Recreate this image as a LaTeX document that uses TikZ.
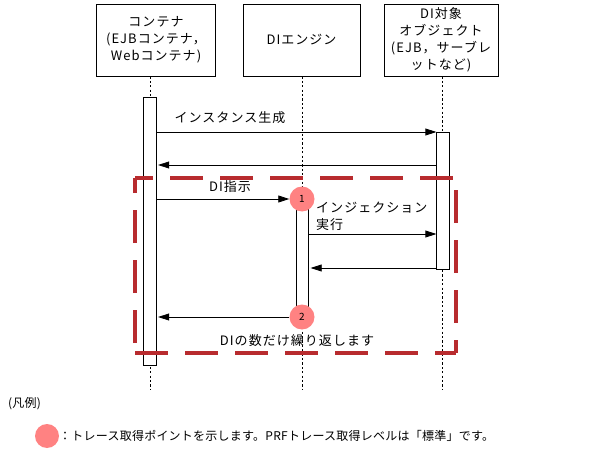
\documentclass[tikz,border=0pt]{standalone}
\usepackage{fontspec}
\setmainfont{Noto Sans CJK JP}[LetterSpace=2]
\newfontfamily\jpwide{Noto Sans CJK JP}[LetterSpace=8]
\usepackage{tikz}
\usetikzlibrary{arrows.meta,calc,positioning}
\definecolor{Loop}{HTML}{B82B2E}
\definecolor{Salmon}{HTML}{FF8282}

\begin{document}
\begin{tikzpicture}[
  x=1pt,y=-1pt,
  every node/.style={font=\jpwide\fontsize{13}{17}\selectfont,align=center,inner sep=0pt},
  head/.style={draw,line width=0.8pt,minimum height=72pt},
  life/.style={line width=0.8pt,dash pattern=on 2.2pt off 2.2pt},
  bar/.style={draw,line width=0.8pt,fill=white,minimum width=12.5pt},
  msg/.style={-{Triangle[length=11pt,width=7pt]},line width=0.8pt},
  tp/.style={circle,fill=Salmon,minimum size=25pt,font=\fontsize{10}{12}\selectfont},
  loopbox/.style={draw=Loop,line width=3.6pt,dash pattern=on 33pt off 17pt}
]
  \useasboundingbox (0,0) rectangle (598,452);
  % lifeline heads
  \node[head,minimum width=119pt] (cont) at (156,40) {コンテナ\\(EJBコンテナ，\\Webコンテナ)};
  \node[head,minimum width=117pt] (engine) at (301.5,40) {DIエンジン};
  \node[head,minimum width=114pt] (target) at (441,40) {DI対象\\オブジェクト\\(EJB，サーブレ\\ットなど)};
  \coordinate (endA) at (150,389);
  \coordinate (endB) at (302,389);
  \coordinate (endC) at (442,389);
  \draw[life] (cont.south -| endA) -- (endA);
  \draw[life] (engine.south -| endB) -- (endB);
  \draw[life] (target.south -| endC) -- (endC);
  % activations
  \node[bar,minimum height=268pt] (barA) at (150,231) {};
  \node[bar,minimum height=137pt] (barC) at (443,200.5) {};
  \node[bar,minimum height=118pt] (barB) at (302.5,258) {};
  % messages
  \draw[msg] (barA.east |- 0,132) -- (barC.west |- 0,132);
  \node (new) at (230,118) {インスタンス生成};
  \draw[msg] (barC.west |- 0,165) -- ($(barA.east |- 0,165)+(1.5,0)$);
  \node[tp] (p1) at (302,199) {1};
  \node[tp] (p2) at (302,317) {2};
  \draw[msg] (barA.east |- p1) -- (p1.west);
  \node (order) at (230,187) {DI指示};
  \draw[msg] (barB.east |- 0,234) -- (barC.west |- 0,234);
  \node[anchor=north west,align=left] (inject) at (316,202) {インジェクション\\実行};
  \draw[msg] (barC.west |- 0,268) -- ($(barB.east |- 0,268)+(1.5,0)$);
  \draw[msg] (p2.west) -- ($(barA.east |- p2)+(1.5,0)$);
  \node (repeat) at (297,341) {DIの数だけ繰り返します};
  % loop frame
  \coordinate (lt) at (135,178);
  \coordinate (rt) at (456,178);
  \coordinate (lb) at (135,353);
  \coordinate (rb) at (456,353);
  \draw[loopbox,dash phase=15pt] (lt) -- (rt);
  \draw[loopbox,dash phase=40pt] (lb) -- (lt);
  \draw[loopbox] (lb) -- (rb);
  \draw[loopbox,dash phase=38pt] (rt) -- (rb);
  % legend
  \node[anchor=west,font=\rmfamily\fontsize{12}{14}\selectfont] (legend) at (8,404) {(凡例)};
  \node[tp,minimum size=24pt] (key) at (47,436) {};
  \node[anchor=west,font=\rmfamily\fontsize{12}{14}\selectfont] (keytext) at (59,436) {：トレース取得ポイントを示します。PRFトレース取得レベルは「標準」です。};
\end{tikzpicture}
\end{document}
